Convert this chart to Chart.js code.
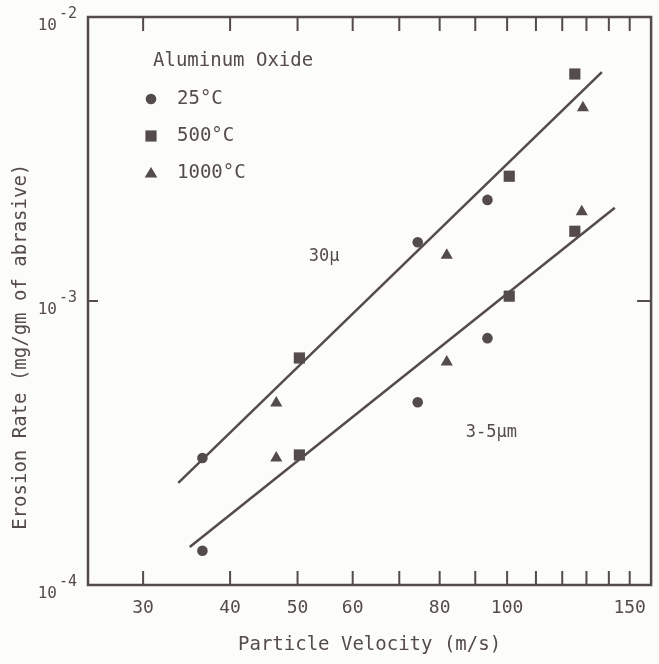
<!DOCTYPE html>
<html>
<head>
<meta charset="utf-8">
<script src="https://cdn.jsdelivr.net/npm/chart.js@4.4.1/dist/chart.umd.min.js"></script>
<style>
  html, body { margin: 0; padding: 0; background: #fcfcf8; }
  canvas { display: block; }
</style>
</head>
<body>
<canvas id="myChart" width="659" height="664"></canvas>
<script>
// values (velocity in m/s, erosion rate in mg/gm)
var velocity25 = [36.5, 36.5, 74.4, 74.4, 93.7, 93.7];
var rate25 = [2.8e-4, 1.32e-4, 1.61e-3, 4.4e-4, 2.27e-3, 7.4e-4];
var velocity500 = [50.3, 50.3, 100.7, 100.7, 125.1, 125.1];
var rate500 = [6.3e-4, 2.87e-4, 2.75e-3, 1.04e-3, 6.3e-3, 1.76e-3];
var velocity1000 = [46.6, 46.6, 81.9, 81.9, 128.5, 128.0];
var rate1000 = [4.37e-4, 2.8e-4, 1.45e-3, 6.1e-4, 4.79e-3, 2.06e-3];

// the two fitted lines (end points)
var fit30Velocity = [33.7, 136.8];
var fit30Rate = [2.29e-4, 6.40e-3];
var fit35Velocity = [35.0, 142.8];
var fit35Rate = [1.36e-4, 2.13e-3];

var xTicks = [30, 40, 50, 60, 70, 80, 90, 100, 110, 120, 130, 140, 150];
var xLabels = [30, 40, 50, 60, 80, 100, 150];
var yTicks = [1e-4, 1e-3, 1e-2];
var yExponents = ['-4', '-3', '-2'];

var ink = '#544b4b';
var mono = "'DejaVu Sans Mono', monospace";

function pts(xs, ys) {
  return xs.map(function (x, i) { return { x: x, y: ys[i] }; });
}

function mark(ctx, style, x, y) {
  ctx.beginPath();
  if (style === 'circle') {
    ctx.arc(x, y, 5.3, 0, Math.PI * 2);
  } else if (style === 'rect') {
    ctx.rect(x - 5.6, y - 5.6, 11.2, 11.2);
  } else {
    ctx.moveTo(x, y - 6);
    ctx.lineTo(x + 6.3, y + 4.5);
    ctx.lineTo(x - 6.3, y + 4.5);
    ctx.closePath();
  }
  ctx.fill();
}

var frame = {
  id: 'frame',
  beforeDraw: function (chart) {
    var ctx = chart.ctx;
    ctx.save();
    ctx.fillStyle = '#fcfcf8';
    ctx.fillRect(0, 0, chart.width, chart.height);
    ctx.restore();
  },
  afterDraw: function (chart) {
    var ctx = chart.ctx, a = chart.chartArea;
    var sx = chart.scales.x, sy = chart.scales.y;
    ctx.save();
    ctx.strokeStyle = ink;
    ctx.lineWidth = 2.5;
    ctx.strokeRect(a.left, a.top, a.right - a.left, a.bottom - a.top);

    // tick marks point into the plot
    ctx.lineWidth = 2;
    xTicks.forEach(function (v) {
      var px = sx.getPixelForValue(v);
      ctx.beginPath();
      ctx.moveTo(px, a.bottom); ctx.lineTo(px, a.bottom - 14);
      ctx.moveTo(px, a.top); ctx.lineTo(px, a.top + 14);
      ctx.stroke();
    });
    var py = sy.getPixelForValue(1e-3);
    ctx.beginPath();
    ctx.moveTo(a.left, py); ctx.lineTo(a.left + 10, py);
    ctx.moveTo(a.right, py); ctx.lineTo(a.right - 14, py);
    ctx.stroke();

    // y labels as 10 with a raised exponent
    ctx.fillStyle = ink;
    ctx.textBaseline = 'middle';
    yTicks.forEach(function (v, i) {
      var y = sy.getPixelForValue(v);
      ctx.textAlign = 'right';
      ctx.font = '16px ' + mono;
      ctx.fillText('10', a.left - 31, y + 9);
      ctx.textAlign = 'left';
      ctx.font = '15px ' + mono;
      ctx.fillText(yExponents[i], a.left - 29, y - 3);
    });

    // legend
    ctx.font = '19px ' + mono;
    ctx.textAlign = 'left';
    ctx.fillText('Aluminum Oxide', a.left + 65, a.top + 44);
    var rows = [['circle', '25\u00B0C'], ['rect', '500\u00B0C'], ['triangle', '1000\u00B0C']];
    rows.forEach(function (r, i) {
      var y = a.top + 82 + i * 37;
      mark(ctx, r[0], a.left + 63, y);
      ctx.fillText(r[1], a.left + 89, y);
    });

    // line labels, anchored in data units
    ctx.font = '17px ' + mono;
    ctx.textAlign = 'center';
    ctx.fillText('30\u03BC', sx.getPixelForValue(54.6), sy.getPixelForValue(1.43e-3));
    ctx.fillText('3-5\u03BCm', sx.getPixelForValue(94.9), sy.getPixelForValue(3.43e-4));
    ctx.restore();
  }
};

var ctx = document.getElementById('myChart').getContext('2d');
var myChart = new Chart(ctx, {
  type: 'scatter',
  data: {
    datasets: [
      { label: '30u fit', type: 'line', data: pts(fit30Velocity, fit30Rate),
        borderColor: ink, borderWidth: 2.5, pointRadius: 0, fill: false },
      { label: '3-5um fit', type: 'line', data: pts(fit35Velocity, fit35Rate),
        borderColor: ink, borderWidth: 2.5, pointRadius: 0, fill: false },
      { label: '25\u00B0C', data: pts(velocity25, rate25), pointStyle: 'circle',
        pointRadius: 5.3, backgroundColor: ink, borderWidth: 0 },
      { label: '500\u00B0C', data: pts(velocity500, rate500), pointStyle: 'rect',
        pointRadius: 7.9, backgroundColor: ink, borderWidth: 0 },
      { label: '1000\u00B0C', data: pts(velocity1000, rate1000), pointStyle: 'triangle',
        pointRadius: 7, backgroundColor: ink, borderWidth: 0 }
    ]
  },
  options: {
    responsive: false,
    animation: false,
    devicePixelRatio: 1,
    layout: { padding: { top: 17, right: 7, left: 0, bottom: 0 } },
    plugins: { legend: { display: false }, tooltip: { enabled: false } },
    scales: {
      x: {
        type: 'logarithmic',
        min: 25,
        max: 161,
        afterBuildTicks: function (s) { s.ticks = xTicks.map(function (v) { return { value: v }; }); },
        afterFit: function (s) { s.height = 79; },
        grid: { display: false },
        border: { display: false },
        ticks: {
          autoSkip: false, maxRotation: 0, padding: 5,
          color: ink, font: { family: mono, size: 18 },
          callback: function (v) { return xLabels.indexOf(v) >= 0 ? String(v) : ''; }
        },
        title: {
          display: true, text: 'Particle Velocity (m/s)', color: ink,
          font: { family: mono, size: 19 }, padding: { top: 0, bottom: 8 }
        }
      },
      y: {
        type: 'logarithmic',
        min: 1e-4,
        max: 1e-2,
        afterBuildTicks: function (s) { s.ticks = yTicks.map(function (v) { return { value: v }; }); },
        afterFit: function (s) { s.width = 88; },
        grid: { display: false },
        border: { display: false },
        ticks: { display: false },
        title: {
          display: true, text: 'Erosion Rate (mg/gm of abrasive)        ', color: ink,
          font: { family: mono, size: 19 }, padding: { top: 10, bottom: 0 }
        }
      }
    }
  },
  plugins: [frame]
});
</script>
</body>
</html>
